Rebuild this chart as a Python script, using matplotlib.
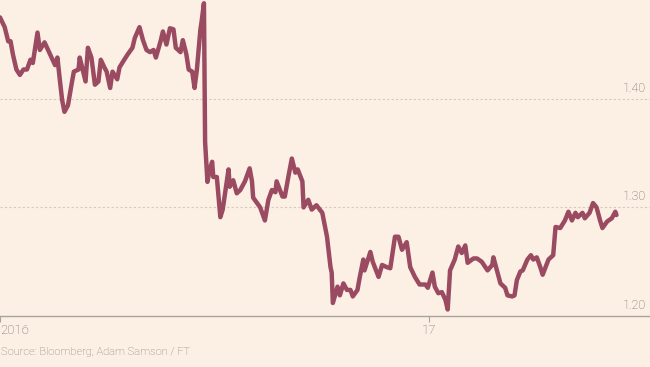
import matplotlib
matplotlib.use("Agg")
import matplotlib.pyplot as plt
import matplotlib.transforms as mtransforms
import pandas as pd

# Tage seit 1. Januar 2016 und Kurs (GBP/USD)
tage = [0, 4, 7, 9, 11, 14, 17, 20, 23, 26, 28, 32, 34, 38, 41, 44, 47, 49, 51, 53,
        55, 58, 61, 63, 67, 68, 71, 73, 75, 78, 81, 84, 86, 89, 91, 94, 96, 100, 102, 106,
        109, 113, 115, 119, 122, 125, 128, 131, 133, 137, 139, 142, 145, 148, 150, 154, 156, 159, 161, 164,
        166, 168, 171, 172, 174, 175, 177, 179, 181, 182, 185, 188, 190, 195, 196, 199, 202, 205, 209, 213,
        215, 216, 222, 226, 229, 232, 235, 236, 241, 243, 246, 249, 252, 254, 258, 259, 263, 266, 270, 275,
        279, 282, 283, 284, 288, 290, 293, 296, 299, 301, 305, 307, 310, 311, 316, 318, 323, 326, 330, 333,
        337, 340, 343, 347, 350, 354, 358, 363, 365, 369, 371, 374, 377, 380, 382, 384, 388, 391, 394, 397,
        399, 404, 407, 411, 416, 420, 421, 424, 427, 431, 433, 437, 439, 441, 444, 446, 450, 453, 455, 458,
        461, 463, 468, 472, 474, 478, 482, 485, 488, 491, 493, 497, 499, 503, 506, 509, 512, 514, 518, 522,
        525, 526]
kurs = [1.475, 1.466, 1.453, 1.453, 1.441, 1.427, 1.422, 1.427, 1.427, 1.436, 1.433, 1.461, 1.445, 1.452, 1.445, 1.438, 1.431, 1.438, 1.418, 1.399,
        1.388, 1.394, 1.413, 1.425, 1.427, 1.438, 1.425, 1.416, 1.447, 1.438, 1.413, 1.416, 1.436, 1.429, 1.425, 1.410, 1.425, 1.418, 1.429, 1.436,
        1.441, 1.447, 1.456, 1.466, 1.454, 1.445, 1.443, 1.445, 1.438, 1.453, 1.462, 1.450, 1.465, 1.464, 1.447, 1.443, 1.454, 1.441, 1.427, 1.425,
        1.410, 1.427, 1.464, 1.471, 1.488, 1.360, 1.3235, 1.335, 1.342, 1.328, 1.328, 1.291, 1.298, 1.335, 1.319, 1.325, 1.313, 1.316, 1.324, 1.336,
        1.324, 1.309, 1.300, 1.288, 1.307, 1.316, 1.314, 1.324, 1.310, 1.310, 1.328, 1.345, 1.332, 1.335, 1.324, 1.300, 1.307, 1.298, 1.302, 1.295,
        1.273, 1.245, 1.240, 1.212, 1.227, 1.219, 1.230, 1.224, 1.224, 1.218, 1.224, 1.236, 1.252, 1.242, 1.259, 1.250, 1.236, 1.247, 1.245, 1.244,
        1.273, 1.273, 1.261, 1.268, 1.245, 1.236, 1.229, 1.229, 1.226, 1.240, 1.227, 1.221, 1.222, 1.215, 1.206, 1.242, 1.252, 1.264, 1.258, 1.265,
        1.249, 1.253, 1.253, 1.250, 1.242, 1.247, 1.254, 1.242, 1.230, 1.226, 1.219, 1.218, 1.219, 1.233, 1.241, 1.242, 1.252, 1.256, 1.252, 1.254,
        1.245, 1.238, 1.252, 1.256, 1.282, 1.281, 1.288, 1.296, 1.288, 1.295, 1.291, 1.295, 1.290, 1.295, 1.304, 1.300, 1.288, 1.281, 1.287, 1.290,
        1.296, 1.293]

y_ticks = [1.20, 1.30, 1.40]
y_labels = ["1.20", "1.30", "1.40"]
x_ticks = ["2016-01-01", "2017-01-01"]
x_labels = ["2016", "17"]
quelle = "Source: Bloomberg; Adam Samson / FT"

start = pd.Timestamp("2016-01-01")
datum = start + pd.to_timedelta(tage, unit="D")

hintergrund = "#fcf0e4"
linienfarbe = "#9a4b61"
grau = "#6f6862"

plt.rcParams["font.family"] = ["Roboto", "DejaVu Sans"]

fig = plt.figure(figsize=(6.5, 3.67), dpi=100, facecolor=hintergrund)
ax = fig.add_axes([0, 51 / 367, 1, 316 / 367], facecolor=hintergrund)

# Gitterlinien und Grundlinie
for v in y_ticks:
    if v == 1.20:
        ax.axhline(v, color="#aaa39c", lw=1.0, zorder=1, clip_on=False)
    else:
        ax.axhline(v, color="#d6cabf", lw=0.8, ls=(0, (2, 2)), zorder=1)

ax.plot(datum, kurs, color=linienfarbe, lw=3.2, solid_joinstyle="round",
        solid_capstyle="round", zorder=3, clip_on=False)

ax.set_xlim(start, start + pd.Timedelta(days=554.6))
ax.set_ylim(1.20, 1.491)

for s in ax.spines.values():
    s.set_visible(False)
ax.set_yticks([])

ax.set_xticks(pd.to_datetime(x_ticks))
ax.set_xticklabels(x_labels, fontsize=9.5, color=grau, fontweight="light")
ax.tick_params(axis="x", length=4, width=0.8, color="#aaa39c", pad=2)
ax.get_xticklabels()[0].set_horizontalalignment("left")

trans = mtransforms.blended_transform_factory(ax.transAxes, ax.transData)
for v, lab in zip(y_ticks, y_labels):
    ax.annotate(lab, xy=(1, v), xycoords=trans, xytext=(-3, 3),
                textcoords="offset points", ha="right", va="bottom",
                fontsize=9, color=grau, fontweight="light")

fig.text(0.001, 15 / 367, quelle, fontsize=8, color="#857d77",
         fontweight="light", va="center", ha="left")

fig.savefig("out.png", dpi=100, facecolor=hintergrund)
